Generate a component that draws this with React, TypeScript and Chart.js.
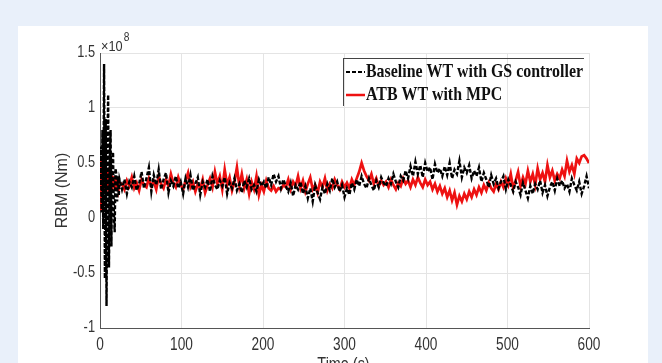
import { useEffect, useRef } from "react";
import { Chart, registerables } from "chart.js";

Chart.register(...registerables);

// ---- data (RBM in units of 1e8 Nm) ----
const earlyTimes = [0, 1, 2, 3, 4, 5, 6, 7, 8, 9, 10, 11, 12, 13, 14, 15, 16, 17, 18, 19, 20, 21, 22, 23, 24];
const baselineEarly = [0.3, 0.65, 0.05, 0.8, -0.1, 1.4, -0.55, 0.9, -0.8, 0.6, 1.12, -0.45, 0.5, 0.8, -0.26, 0.55, 0.6, 0.05, -0.13, 0.45, 0.4, 0.15, 0.38, 0.2, 0.35];
const mpcEarly = [0.08, 0.35, 0.55, 0.2, 0.5, 0.25, 0.48, 0.22, 0.45, 0.28, 0.42, 0.2, 0.46, 0.3, 0.4, 0.24, 0.38, 0.28, 0.35, 0.26, 0.36, 0.3, 0.33, 0.27, 0.32];

const mainStartTime = 27;
const mainSampleStep = 3;
const baselineMain = [
  0.26, 0.35, 0.22, 0.33, 0.28, 0.38, 0.25, 0.31, 0.42, 0.27, 0.36, 0.46,
  0.24, 0.39, 0.30, 0.44, 0.26, 0.35, 0.41, 0.23, 0.34, 0.29, 0.38, 0.27,
  0.33, 0.22, 0.36, 0.28, 0.39, 0.25, 0.31, 0.37, 0.21, 0.33, 0.28, 0.35,
  0.24, 0.38, 0.30, 0.26, 0.34, 0.29, 0.37, 0.22, 0.32, 0.27, 0.36, 0.25,
  0.31, 0.23, 0.34, 0.28, 0.36, 0.26, 0.30, 0.24, 0.35, 0.29, 0.33, 0.27,
  0.37, 0.30, 0.40, 0.33, 0.38, 0.27, 0.35, 0.29, 0.24, 0.32, 0.20, 0.30,
  0.26, 0.33, 0.22, 0.29, 0.18, 0.27, 0.15, 0.30, 0.23, 0.17, 0.28, 0.22,
  0.31, 0.25, 0.36, 0.28, 0.33, 0.24, 0.30, 0.19, 0.27, 0.21, 0.32, 0.26,
  0.35, 0.29, 0.38, 0.31, 0.27, 0.36, 0.30, 0.25, 0.34, 0.28, 0.37, 0.32,
  0.29, 0.36, 0.31, 0.40, 0.33, 0.28, 0.38, 0.34, 0.43, 0.36, 0.47, 0.38,
  0.51, 0.40, 0.48, 0.37, 0.50, 0.42, 0.46, 0.35, 0.49, 0.41, 0.45, 0.38,
  0.47, 0.39, 0.50, 0.36, 0.44, 0.40, 0.52, 0.37, 0.46, 0.41, 0.48, 0.36,
  0.43, 0.38, 0.46, 0.33, 0.41, 0.35, 0.28, 0.39, 0.31, 0.36, 0.27, 0.33,
  0.38, 0.26, 0.35, 0.30, 0.24, 0.33, 0.28, 0.21, 0.32, 0.25, 0.18, 0.29,
  0.22, 0.31, 0.26, 0.34, 0.23, 0.30, 0.20, 0.28, 0.33, 0.25, 0.36, 0.29,
  0.34, 0.27, 0.31, 0.24, 0.36, 0.30, 0.25, 0.33, 0.22, 0.29, 0.38, 0.27,
];
const mpcMain = [
  0.31, 0.26, 0.34, 0.29, 0.37, 0.27, 0.32, 0.25, 0.35, 0.30, 0.28, 0.36,
  0.29, 0.33, 0.26, 0.38, 0.31, 0.27, 0.35, 0.29, 0.40, 0.32, 0.28, 0.37,
  0.30, 0.26, 0.34, 0.41, 0.28, 0.33, 0.24, 0.31, 0.27, 0.35, 0.23, 0.30,
  0.36, 0.28, 0.42, 0.31, 0.38, 0.26, 0.44, 0.30, 0.37, 0.25, 0.33, 0.46,
  0.29, 0.40, 0.27, 0.35, 0.22, 0.33, 0.26, 0.38, 0.21, 0.30, 0.24, 0.34,
  0.27, 0.25, 0.29, 0.24, 0.27, 0.26, 0.30, 0.28, 0.35, 0.26, 0.33, 0.29,
  0.38, 0.27, 0.34, 0.24, 0.31, 0.37, 0.26, 0.30, 0.23, 0.33, 0.28, 0.36,
  0.25, 0.31, 0.27, 0.35, 0.30, 0.26, 0.33, 0.28, 0.32, 0.27, 0.35, 0.30,
  0.36, 0.42, 0.50, 0.43, 0.38, 0.34, 0.40, 0.31, 0.36, 0.29, 0.34, 0.30,
  0.33, 0.28, 0.35, 0.30, 0.26, 0.32, 0.29, 0.36, 0.31, 0.34, 0.28, 0.35,
  0.30, 0.37, 0.32, 0.28, 0.35, 0.30, 0.33, 0.26, 0.31, 0.24, 0.29, 0.22,
  0.27, 0.19, 0.25, 0.16, 0.23, 0.12, 0.20, 0.15, 0.22, 0.17, 0.24, 0.19,
  0.26, 0.21, 0.28, 0.23, 0.30, 0.25, 0.32, 0.27, 0.24, 0.31, 0.26, 0.33,
  0.28, 0.36, 0.30, 0.40, 0.27, 0.34, 0.42, 0.29, 0.37, 0.31, 0.43, 0.33,
  0.40, 0.30, 0.45, 0.35, 0.41, 0.33, 0.48, 0.37, 0.43, 0.34, 0.40, 0.36,
  0.44, 0.38, 0.52, 0.42, 0.48, 0.40, 0.54, 0.50, 0.56, 0.57, 0.54, 0.50,
];

const xTickValues = [0, 100, 200, 300, 400, 500, 600];
const yTickValues = [-1, -0.5, 0, 0.5, 1, 1.5];
const seriesLabels = ["Baseline WT with GS controller", "ATB WT with MPC"];
const yAxisTitle = "RBM (Nm)";
const xAxisTitle = "Time (s)";

function buildPoints(early: number[], main: number[]) {
  const pts = earlyTimes.map((t, i) => ({ x: t, y: early[i] }));
  main.forEach((v, i) => pts.push({ x: mainStartTime + i * mainSampleStep, y: v }));
  return pts;
}

const SANS = "'Liberation Sans', Arial, sans-serif";

function squishText(
  ctx: CanvasRenderingContext2D,
  text: string,
  x: number,
  y: number,
  sx: number,
  align: "left" | "right" | "center"
) {
  ctx.save();
  ctx.translate(x, y);
  ctx.scale(sx, 1);
  ctx.textAlign = align;
  ctx.fillText(text, 0, 0);
  ctx.restore();
}

const extrasPlugin = {
  id: "extras",
  afterDraw(chart: any) {
    const ctx = chart.ctx as CanvasRenderingContext2D;
    const area = chart.chartArea;
    const xs = chart.scales.x;
    const ys = chart.scales.y;
    ctx.save();
    ctx.fillStyle = "#333333";

    // tick labels (horizontally compressed like the reference)
    ctx.font = `18px ${SANS}`;
    ctx.textBaseline = "middle";
    xTickValues.forEach((v) => {
      squishText(ctx, String(v), xs.getPixelForValue(v), 345, 0.76, "center");
    });
    ctx.font = `16px ${SANS}`;
    yTickValues.forEach((v) => {
      squishText(ctx, String(v), area.left - 5, ys.getPixelForValue(v), 0.8, "right");
    });

    // x10^8 multiplier
    ctx.textBaseline = "alphabetic";
    ctx.font = `15px ${SANS}`;
    squishText(ctx, "\u00d710", area.left + 1, area.top - 2, 0.85, "left");
    const w = ctx.measureText("\u00d710").width * 0.85;
    ctx.font = `12px ${SANS}`;
    squishText(ctx, "8", area.left + 2 + w, area.top - 12, 0.85, "left");

    // y axis title
    ctx.save();
    ctx.translate(63, (area.top + area.bottom) / 2);
    ctx.rotate(-Math.PI / 2);
    ctx.font = `16px ${SANS}`;
    ctx.textAlign = "center";
    ctx.textBaseline = "middle";
    ctx.fillText(yAxisTitle, 0, 0);
    ctx.restore();

    // x axis title (cut off at bottom)
    ctx.font = `18px ${SANS}`;
    ctx.textBaseline = "top";
    squishText(ctx, xAxisTitle, (area.left + area.right) / 2 - 1, 356, 0.8, "center");

    // legend
    const lx = 343, ly = 58, lr = 584, lb = 106;
    ctx.strokeStyle = "#444";
    ctx.lineWidth = 1;
    ctx.beginPath();
    ctx.moveTo(lx, ly + 0.5);
    ctx.lineTo(lr, ly + 0.5);
    ctx.moveTo(lx + 0.5, ly);
    ctx.lineTo(lx + 0.5, lb);
    ctx.stroke();

    const rows = [72, 95];
    ctx.lineWidth = 2;
    ctx.strokeStyle = "#000";
    ctx.setLineDash([4, 2]);
    ctx.beginPath();
    ctx.moveTo(346, rows[0]);
    ctx.lineTo(365, rows[0]);
    ctx.stroke();
    ctx.setLineDash([]);
    ctx.strokeStyle = "#ee1111";
    ctx.lineWidth = 2.5;
    ctx.beginPath();
    ctx.moveTo(346, rows[1]);
    ctx.lineTo(365, rows[1]);
    ctx.stroke();

    ctx.font = "bold 19px 'Liberation Serif', 'Times New Roman', serif";
    ctx.textBaseline = "middle";
    ctx.fillStyle = "#111";
    const m = ctx.measureText(seriesLabels[0]).width;
    const sx = 217 / m;
    seriesLabels.forEach((lab, i) => {
      squishText(ctx, lab, 366, rows[i], sx, "left");
    });
    ctx.restore();
  },
};

export default function App() {
  const ref = useRef<HTMLCanvasElement>(null);
  useEffect(() => {
    if (!ref.current) return;
    const chart = new Chart(ref.current, {
      type: "line",
      data: {
        datasets: [
          {
            label: seriesLabels[0],
            data: buildPoints(baselineEarly, baselineMain),
            borderColor: "#000000",
            borderWidth: 2.4,
            borderDash: [4, 2],
            pointRadius: 0,
            tension: 0,
          },
          {
            label: seriesLabels[1],
            data: buildPoints(mpcEarly, mpcMain),
            borderColor: "#ee1111",
            borderWidth: 2.7,
            pointRadius: 0,
            tension: 0,
          },
        ],
      },
      options: {
        animation: false,
        responsive: false,
        devicePixelRatio: 1,
        parsing: false as any,
        layout: { padding: { top: 53, right: 73, left: 0, bottom: 0 } },
        plugins: { legend: { display: false }, tooltip: { enabled: false } },
        scales: {
          x: {
            type: "linear",
            min: 0,
            max: 600,
            afterBuildTicks: (s: any) => {
              s.ticks = xTickValues.map((v) => ({ value: v }));
            },
            afterFit: (s: any) => {
              s.height = 35;
            },
            ticks: { display: false },
            grid: { color: "#e4e4e4", drawTicks: false, lineWidth: 1 },
            border: { color: "#555", width: 1 },
          },
          y: {
            type: "linear",
            min: -1,
            max: 1.5,
            afterBuildTicks: (s: any) => {
              s.ticks = yTickValues.map((v) => ({ value: v }));
            },
            afterFit: (s: any) => {
              s.width = 100;
            },
            ticks: { display: false },
            grid: { color: "#e4e4e4", drawTicks: false, lineWidth: 1 },
            border: { color: "#555", width: 1 },
          },
        },
      },
      plugins: [extrasPlugin],
    });
    return () => chart.destroy();
  }, []);

  return (
    <div
      style={{
        position: "fixed",
        left: 0,
        top: 0,
        width: 662,
        height: 363,
        background: "#e9f0fa",
        overflow: "hidden",
      }}
    >
      <div
        style={{
          position: "absolute",
          left: 18,
          top: 26,
          width: 630,
          height: 340,
          background: "#ffffff",
        }}
      />
      <canvas
        ref={ref}
        width={662}
        height={363}
        style={{ position: "absolute", left: 0, top: 0, width: 662, height: 363 }}
      />
    </div>
  );
}
